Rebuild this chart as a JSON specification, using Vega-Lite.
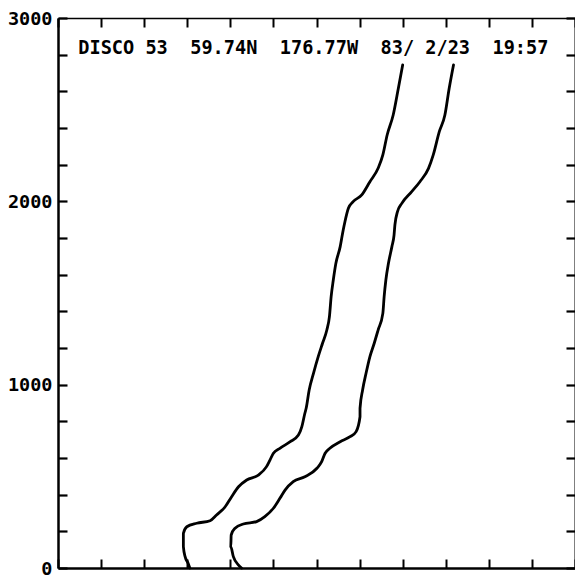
{
  "$schema": "https://vega.github.io/schema/vega-lite/v6.json",
  "width": 517,
  "height": 550,
  "autosize": {"type": "none"},
  "padding": {"left": 58, "top": 18, "right": 0, "bottom": 13},
  "background": "white",
  "config": {
    "view": {"stroke": null},
    "axis": {
      "grid": false,
      "domainColor": "black",
      "tickColor": "black",
      "labelColor": "black",
      "title": null
    }
  },
  "resolve": {"axis": {"x": "independent", "y": "independent"}},
  "datasets": {
    "profiles": [
      {"profile": "A", "x": 8.00, "depth": 2744},
      {"profile": "A", "x": 7.90, "depth": 2617},
      {"profile": "A", "x": 7.78, "depth": 2471},
      {"profile": "A", "x": 7.64, "depth": 2362},
      {"profile": "A", "x": 7.54, "depth": 2253},
      {"profile": "A", "x": 7.43, "depth": 2180},
      {"profile": "A", "x": 7.24, "depth": 2107},
      {"profile": "A", "x": 7.05, "depth": 2035},
      {"profile": "A", "x": 6.85, "depth": 1998},
      {"profile": "A", "x": 6.74, "depth": 1962},
      {"profile": "A", "x": 6.66, "depth": 1889},
      {"profile": "A", "x": 6.62, "depth": 1844},
      {"profile": "A", "x": 6.55, "depth": 1753},
      {"profile": "A", "x": 6.45, "depth": 1662},
      {"profile": "A", "x": 6.39, "depth": 1571},
      {"profile": "A", "x": 6.34, "depth": 1480},
      {"profile": "A", "x": 6.30, "depth": 1371},
      {"profile": "A", "x": 6.24, "depth": 1298},
      {"profile": "A", "x": 6.14, "depth": 1226},
      {"profile": "A", "x": 6.04, "depth": 1153},
      {"profile": "A", "x": 5.93, "depth": 1062},
      {"profile": "A", "x": 5.83, "depth": 971},
      {"profile": "A", "x": 5.76, "depth": 871},
      {"profile": "A", "x": 5.73, "depth": 844},
      {"profile": "A", "x": 5.66, "depth": 771},
      {"profile": "A", "x": 5.58, "depth": 725},
      {"profile": "A", "x": 5.39, "depth": 689},
      {"profile": "A", "x": 5.15, "depth": 653},
      {"profile": "A", "x": 5.00, "depth": 626},
      {"profile": "A", "x": 4.92, "depth": 589},
      {"profile": "A", "x": 4.84, "depth": 553},
      {"profile": "A", "x": 4.65, "depth": 507},
      {"profile": "A", "x": 4.38, "depth": 480},
      {"profile": "A", "x": 4.19, "depth": 443},
      {"profile": "A", "x": 4.03, "depth": 389},
      {"profile": "A", "x": 3.88, "depth": 334},
      {"profile": "A", "x": 3.68, "depth": 289},
      {"profile": "A", "x": 3.53, "depth": 258},
      {"profile": "A", "x": 3.22, "depth": 244},
      {"profile": "A", "x": 2.99, "depth": 225},
      {"profile": "A", "x": 2.91, "depth": 189},
      {"profile": "A", "x": 2.91, "depth": 116},
      {"profile": "A", "x": 2.95, "depth": 62},
      {"profile": "A", "x": 3.02, "depth": 26},
      {"profile": "A", "x": 3.06, "depth": 0},
      {"profile": "B", "x": 9.18, "depth": 2744},
      {"profile": "B", "x": 9.08, "depth": 2617},
      {"profile": "B", "x": 8.98, "depth": 2471},
      {"profile": "B", "x": 8.85, "depth": 2380},
      {"profile": "B", "x": 8.71, "depth": 2253},
      {"profile": "B", "x": 8.60, "depth": 2180},
      {"profile": "B", "x": 8.40, "depth": 2107},
      {"profile": "B", "x": 8.21, "depth": 2053},
      {"profile": "B", "x": 7.98, "depth": 1989},
      {"profile": "B", "x": 7.88, "depth": 1944},
      {"profile": "B", "x": 7.82, "depth": 1871},
      {"profile": "B", "x": 7.80, "depth": 1816},
      {"profile": "B", "x": 7.75, "depth": 1753},
      {"profile": "B", "x": 7.67, "depth": 1662},
      {"profile": "B", "x": 7.61, "depth": 1571},
      {"profile": "B", "x": 7.57, "depth": 1480},
      {"profile": "B", "x": 7.54, "depth": 1389},
      {"profile": "B", "x": 7.43, "depth": 1298},
      {"profile": "B", "x": 7.34, "depth": 1226},
      {"profile": "B", "x": 7.24, "depth": 1153},
      {"profile": "B", "x": 7.15, "depth": 1062},
      {"profile": "B", "x": 7.07, "depth": 971},
      {"profile": "B", "x": 7.01, "depth": 871},
      {"profile": "B", "x": 7.01, "depth": 825},
      {"profile": "B", "x": 6.92, "depth": 744},
      {"profile": "B", "x": 6.78, "depth": 716},
      {"profile": "B", "x": 6.55, "depth": 689},
      {"profile": "B", "x": 6.31, "depth": 653},
      {"profile": "B", "x": 6.20, "depth": 626},
      {"profile": "B", "x": 6.12, "depth": 580},
      {"profile": "B", "x": 6.01, "depth": 544},
      {"profile": "B", "x": 5.73, "depth": 498},
      {"profile": "B", "x": 5.46, "depth": 471},
      {"profile": "B", "x": 5.27, "depth": 425},
      {"profile": "B", "x": 5.15, "depth": 380},
      {"profile": "B", "x": 5.00, "depth": 326},
      {"profile": "B", "x": 4.80, "depth": 280},
      {"profile": "B", "x": 4.61, "depth": 253},
      {"profile": "B", "x": 4.30, "depth": 240},
      {"profile": "B", "x": 4.11, "depth": 217},
      {"profile": "B", "x": 4.02, "depth": 180},
      {"profile": "B", "x": 4.01, "depth": 116},
      {"profile": "B", "x": 4.07, "depth": 62},
      {"profile": "B", "x": 4.19, "depth": 16},
      {"profile": "B", "x": 4.26, "depth": 0}
    ],
    "header": [
      {"label": "DISCO 53\u00a0\u00a059.74N\u00a0\u00a0176.77W\u00a0\u00a083/\u00a02/23\u00a0\u00a019:57"}
    ]
  },
  "layer": [
    {
      "data": {"name": "profiles"},
      "mark": {"type": "line", "color": "black", "strokeWidth": 2.8, "strokeJoin": "round", "strokeCap": "round", "interpolate": "monotone"},
      "encoding": {
        "x": {
          "field": "x", "type": "quantitative",
          "scale": {"domain": [0, 12], "nice": false, "zero": false},
          "axis": {
            "orient": "bottom", "values": [0, 1, 2, 3, 4, 5, 6, 7, 8, 9, 10, 11, 12],
            "labels": false, "tickSize": -9, "tickWidth": 2, "domainWidth": 2.5
          }
        },
        "y": {
          "field": "depth", "type": "quantitative",
          "scale": {"domain": [0, 3000], "nice": false},
          "axis": {
            "orient": "left",
            "values": [0, 200, 400, 600, 800, 1000, 1200, 1400, 1600, 1800, 2000, 2200, 2400, 2600, 2800, 3000],
            "format": "d",
            "labelExpr": "datum.value % 1000 === 0 ? datum.label : ''",
            "labelFont": "DejaVu Sans Mono", "labelFontWeight": "bold", "labelFontSize": 18.5,
            "labelPadding": 15, "labelFlush": false, "labelBaseline": "middle",
            "tickSize": -9, "tickWidth": 2.2, "domainWidth": 2.5
          }
        },
        "detail": {"field": "profile"},
        "order": {"field": "depth", "type": "quantitative"}
      }
    },
    {
      "data": {"name": "profiles"},
      "mark": {"type": "line", "opacity": 0},
      "encoding": {
        "x": {
          "field": "x", "type": "quantitative",
          "axis": {
            "orient": "top", "values": [0, 1, 2, 3, 4, 5, 6, 7, 8, 9, 10, 11, 12],
            "labels": false, "tickSize": -9, "tickWidth": 2, "domainWidth": 1.6
          }
        },
        "y": {
          "field": "depth", "type": "quantitative",
          "axis": {
            "orient": "right",
            "values": [0, 200, 400, 600, 800, 1000, 1200, 1400, 1600, 1800, 2000, 2200, 2400, 2600, 2800, 3000],
            "labels": false, "tickSize": -9, "tickWidth": 2.2, "domainWidth": 2
          }
        },
        "detail": {"field": "profile"}
      }
    },
    {
      "data": {"name": "header"},
      "mark": {"type": "text", "align": "left", "baseline": "middle", "font": "DejaVu Sans Mono", "fontWeight": "bold", "fontSize": 18.6, "color": "black"},
      "encoding": {
        "text": {"field": "label"},
        "x": {"datum": 0.47, "type": "quantitative", "axis": null},
        "y": {"datum": 2836, "type": "quantitative", "axis": null}
      }
    }
  ]
}
